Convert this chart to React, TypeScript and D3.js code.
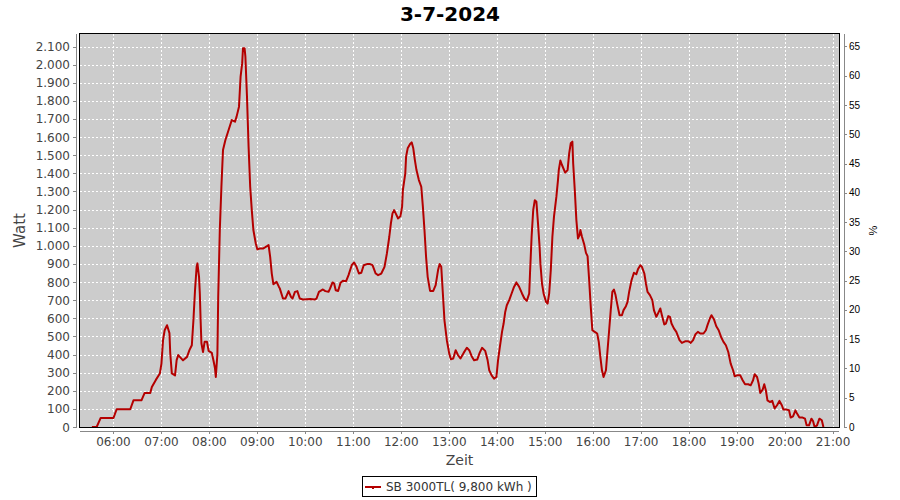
import React from "react";
import * as d3 from "d3";

const TITLE = "3-7-2024";
const SERIES_NAME = "SB 3000TL( 9,800 kWh )";
const X_LABEL = "Zeit";
const Y_LABEL = "Watt";
const Y2_LABEL = "%";

const X_TICKS = ["06:00","07:00","08:00","09:00","10:00","11:00","12:00","13:00","14:00","15:00","16:00","17:00","18:00","19:00","20:00","21:00"];
const WATT_TICKS = [0,100,200,300,400,500,600,700,800,900,1000,1100,1200,1300,1400,1500,1600,1700,1800,1900,2000,2100];
const PCT_TICKS = [0,5,10,15,20,25,30,35,40,45,50,55,60,65];

const TIMES = [
  "05:33","05:39","05:44","06:00","06:04","06:21","06:25","06:35","06:39","06:46","06:48","06:53","06:58",
  "07:00","07:02","07:04","07:07","07:10","07:11","07:13","07:17","07:19","07:21","07:23","07:27","07:32","07:35","07:38",
  "07:40","07:42","07:44","07:45","07:47","07:48","07:49","07:50","07:52","07:54","07:57","07:59",
  "08:03","08:05","08:07","08:08","08:10","08:11","08:13","08:15","08:17","08:20","08:24","08:28","08:32","08:34","08:37",
  "08:39","08:41","08:42","08:44","08:45","08:47","08:49","08:51","08:53","08:55","08:58",
  "09:00","09:03","09:07","09:12","09:14","09:16","09:18","09:20","09:24","09:27","09:28","09:32","09:35","09:39","09:42",
  "09:44","09:47","09:50","09:53","09:57","10:06","10:12","10:14","10:17","10:22","10:25","10:29","10:31","10:34","10:36",
  "10:38","10:41","10:44","10:47","10:51","10:54","10:58","11:01","11:04","11:07","11:10","11:13","11:17","11:21","11:24",
  "11:28","11:31","11:35","11:39","11:42","11:45","11:47","11:49","11:51","11:53","11:56","11:59","12:01","12:02","12:05",
  "12:06","12:08","12:11","12:13","12:15","12:17","12:19","12:22","12:25","12:27","12:29","12:31","12:33","12:36","12:40",
  "12:43","12:46","12:48","12:50","12:52","12:54","12:57","13:00","13:02","13:05","13:08","13:11","13:14","13:18","13:22",
  "13:25","13:28","13:31","13:35","13:38","13:41","13:45","13:48","13:50","13:53","13:56","13:59","14:01","14:03","14:06",
  "14:08","14:10","14:12","14:15","14:18","14:21","14:24","14:27","14:31","14:34","14:37","14:40","14:41","14:43","14:45",
  "14:47","14:49","14:51","14:53","14:54","14:56","14:58","15:01","15:03","15:05","15:07","15:09","15:11","15:14","15:16",
  "15:17","15:19","15:21","15:25","15:28","15:30","15:32","15:34","15:35","15:37","15:39","15:41","15:43","15:44","15:46",
  "15:49","15:51","15:53","15:55","15:57","15:59","16:02","16:05","16:07","16:09","16:11","16:13","16:16","16:18","16:20",
  "16:22","16:24","16:26","16:28","16:30","16:33","16:36","16:38","16:41","16:43","16:45","16:48","16:51","16:54","16:56",
  "16:59","17:01","17:04","17:06","17:08","17:11","17:14","17:16","17:19","17:21","17:24","17:26","17:29","17:31","17:34",
  "17:36","17:38","17:41","17:44","17:48","17:51","17:55","17:59","18:02","18:05","18:08","18:11","18:14","18:18","18:21",
  "18:23","18:26","18:28","18:31","18:34","18:37","18:40","18:43","18:46","18:49","18:52","18:55","18:57","19:00","19:04",
  "19:07","19:10","19:14","19:17","19:20","19:22","19:25","19:27","19:29","19:32","19:34","19:36","19:38","19:41","19:44",
  "19:47","19:50","19:53","19:56","19:58","20:02","20:05","20:07","20:10","20:13","20:15","20:18","20:22","20:25","20:27",
  "20:30","20:33","20:35","20:37","20:40","20:43","20:46","20:48"
];

const WATTS = [
  0,0,50,50,98,98,147,147,188,188,221,260,295,
  350,479,534,562,518,407,296,285,369,397,387,368,387,424,451,
  589,755,884,903,829,737,589,462,414,470,470,420,
  409,368,324,276,405,718,1087,1326,1529,1584,1639,1694,1685,1713,1768,
  1934,2008,2090,2090,2044,1823,1547,1326,1197,1087,1013,
  980,985,985,998,1004,939,847,788,801,773,765,709,709,750,718,
  709,746,750,709,704,706,704,709,746,759,750,746,765,798,792,
  755,751,796,807,805,838,893,908,884,847,851,893,899,899,893,
  847,838,847,884,958,1050,1124,1179,1197,1179,1151,1164,1216,1308,1400,
  1492,1538,1562,1571,1538,1473,1418,1363,1326,1216,1087,939,829,751,751,
  783,866,899,884,737,589,479,405,374,378,424,396,378,409,437,
  424,391,368,372,409,437,420,368,313,285,267,276,368,433,525,
  571,635,672,700,737,773,798,777,737,709,696,737,847,1050,1197,
  1252,1243,1124,994,903,792,737,691,681,737,866,1050,1161,1271,1363,
  1418,1471,1446,1404,1418,1510,1566,1575,1455,1308,1142,1041,1059,1087,1050,
  1004,961,943,810,663,534,525,516,470,387,313,276,313,424,534,
  645,746,759,728,681,617,617,645,667,691,746,810,851,843,870,
  893,884,847,792,746,728,700,645,608,626,654,617,566,571,612,
  608,571,544,525,479,464,473,473,464,479,512,525,516,516,534,
  562,599,617,595,556,534,497,470,451,414,350,313,280,285,285,
  258,236,236,230,258,291,276,240,188,206,236,203,147,138,144,
  102,120,144,120,96,96,92,52,59,92,74,52,52,46,9,
  9,46,33,0,9,46,37,0
];

const toMin = (s: string) => {
  const [h, m] = s.split(":").map(Number);
  return h * 60 + m;
};

const FONT = "'DejaVu Sans', sans-serif";

export default function App() {
  const W = 900, H = 500;
  const L = 80, R = 839, T = 34, B = 427;

  const x = d3.scaleLinear().domain([317.5, 1267.5]).range([79.5, 839]);
  const y = d3.scaleLinear().domain([0, 2169]).range([B, T]);
  const y2 = d3.scaleLinear().domain([0, 67.13]).range([B, T]);

  const locale = d3.formatLocale({ decimal: ",", thousands: ".", grouping: [3], currency: ["", ""] });
  const fmt = locale.format(",d");

  const data = TIMES.map((t, i) => ({ t: toMin(t), v: WATTS[i] }));
  const line = d3.line<{ t: number; v: number }>().x((d) => x(d.t)).y((d) => y(d.v));

  const gridColor = "#ffffff";
  const axisColor = "#888888";
  const lineColor = "#b40000";

  return (
    <svg width={W} height={H} style={{ position: "absolute", left: 0, top: 0, background: "#fff" }}>
      <defs>
        <clipPath id="plotclip">
          <rect x={L} y={T} width={R - L} height={B - T} />
        </clipPath>
      </defs>
      <rect x={0} y={0} width={W} height={H} fill="#fff" />
      <text x={450} y={21} textAnchor="middle" fontFamily={FONT} fontWeight="bold" fontSize={20} fill="#000">{TITLE}</text>

      {/* plot background */}
      <rect x={L} y={T} width={R - L} height={B - T} fill="#cccccc" />

      {/* grid */}
      <g shapeRendering="crispEdges">
        {WATT_TICKS.filter((v) => v > 0).map((v) => (
          <line key={"h" + v} x1={L} x2={R} y1={Math.round(y(v)) + 0.5} y2={Math.round(y(v)) + 0.5} stroke={gridColor} strokeDasharray="2,2" />
        ))}
        {X_TICKS.map((s) => (
          <line key={"v" + s} x1={Math.round(x(toMin(s))) + 0.5} x2={Math.round(x(toMin(s))) + 0.5} y1={T} y2={B} stroke={gridColor} strokeDasharray="2,2" />
        ))}
      </g>

      {/* series */}
      <g clipPath="url(#plotclip)">
        <path d={line(data) || ""} fill="none" stroke={lineColor} strokeWidth={2} strokeLinejoin="round" />
      </g>

      {/* plot outline */}
      <rect x={L - 0.5} y={T - 0.5} width={R - L + 1} height={B - T + 1} fill="none" stroke="#000" strokeWidth={1} shapeRendering="crispEdges" />

      {/* left axis */}
      <g shapeRendering="crispEdges">
        <line x1={76.5} x2={76.5} y1={T} y2={B + 1} stroke={axisColor} />
        {WATT_TICKS.map((v) => (
          <line key={"lt" + v} x1={73} x2={76} y1={Math.round(y(v)) + 0.5} y2={Math.round(y(v)) + 0.5} stroke={axisColor} />
        ))}
      </g>
      {WATT_TICKS.map((v) => (
        <text key={"ll" + v} x={70} y={y(v) + 4.5} textAnchor="end" fontFamily={FONT} fontSize={12} fill="#444">{fmt(v)}</text>
      ))}
      <text transform={`translate(25,${(T + B) / 2}) rotate(-90)`} textAnchor="middle" fontFamily={FONT} fontSize={15} fill="#444">{Y_LABEL}</text>

      {/* right axis */}
      <g shapeRendering="crispEdges">
        <line x1={844.5} x2={844.5} y1={T} y2={B + 1} stroke={axisColor} />
        {PCT_TICKS.map((v) => (
          <line key={"rt" + v} x1={845} x2={847} y1={Math.round(y2(v)) + 0.5} y2={Math.round(y2(v)) + 0.5} stroke={axisColor} />
        ))}
      </g>
      {PCT_TICKS.map((v) => (
        <text key={"rl" + v} x={849} y={y2(v) + 3.5} textAnchor="start" fontFamily="'Liberation Sans', sans-serif" fontSize={10} fill="#000">{v}</text>
      ))}
      <text transform={`translate(877,${(T + B) / 2}) rotate(-90)`} textAnchor="middle" fontFamily="'Liberation Sans', sans-serif" fontSize={11} fill="#000">{Y2_LABEL}</text>

      {/* x axis */}
      <g shapeRendering="crispEdges">
        <line x1={L} x2={R} y1={431.5} y2={431.5} stroke={axisColor} />
        {X_TICKS.map((s) => (
          <line key={"xt" + s} x1={Math.round(x(toMin(s))) + 0.5} x2={Math.round(x(toMin(s))) + 0.5} y1={432} y2={434} stroke={axisColor} />
        ))}
      </g>
      {X_TICKS.map((s) => (
        <text key={"xl" + s} x={x(toMin(s))} y={446} textAnchor="middle" fontFamily={FONT} fontSize={12} fill="#444">{s}</text>
      ))}
      <text x={(L + R) / 2} y={465} textAnchor="middle" fontFamily={FONT} fontSize={14} fill="#444">{X_LABEL}</text>

      {/* legend */}
      <rect x={362.5} y={476.5} width={174} height={20} fill="#fff" stroke="#000" shapeRendering="crispEdges" />
      <line x1={365} x2={381} y1={487} y2={487} stroke={lineColor} strokeWidth={2} shapeRendering="crispEdges" />
      <rect x={372} y={487} width={2} height={2} fill={lineColor} />
      <text x={386} y={491} fontFamily={FONT} fontSize={12} fill="#333">{SERIES_NAME}</text>
    </svg>
  );
}
